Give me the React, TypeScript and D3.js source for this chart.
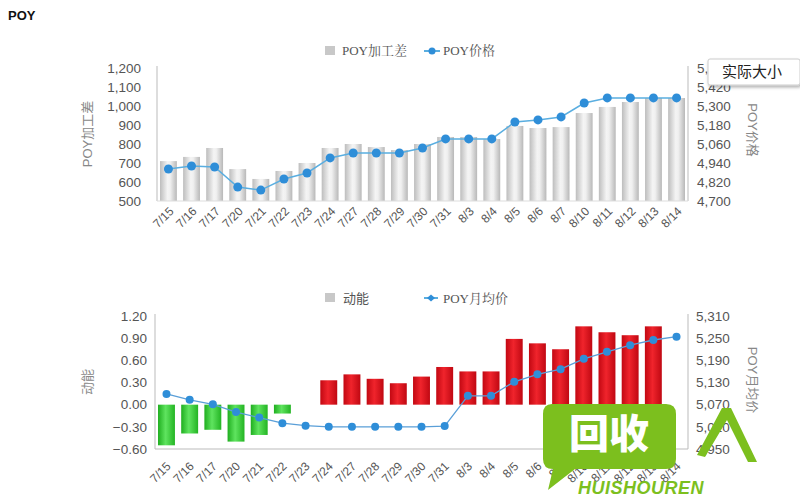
import React from "react";
import * as d3 from "d3";

const categories = ["7/15","7/16","7/17","7/20","7/21","7/22","7/23","7/24","7/27","7/28","7/29","7/30","7/31","8/3","8/4","8/5","8/6","8/7","8/10","8/11","8/12","8/13","8/14"];
const processingSpread = [710,732,779,668,616,658,700,779,800,784,768,800,837,837,826,895,884,889,963,995,1021,1042,1042];
const poyPrice = [4902,4921,4915,4788,4769,4839,4877,4972,5003,5003,5003,5035,5092,5092,5092,5199,5212,5231,5319,5351,5351,5351,5351];
const momentum: (number | null)[] = [-0.55,-0.39,-0.34,-0.50,-0.41,-0.12,0,0.33,0.41,0.35,0.29,0.38,0.51,0.45,0.45,0.89,0.83,0.75,1.06,0.98,0.94,1.06,null];
const monthlyAvg = [5099,5083,5071,5050,5035,5020,5013,5010,5010,5010,5010,5010,5012,5094,5094,5132,5152,5166,5194,5213,5231,5245,5254];

const topLeftTicks = [500,600,700,800,900,1000,1100,1200];
const topRightTicks = [4700,4820,4940,5060,5180,5300,5420,5540];
const botLeftTicks = [-0.6,-0.3,0,0.3,0.6,0.9,1.2];
const botRightTicks = [4950,5010,5070,5130,5190,5250,5310];

const SANS = "'Liberation Sans', Arial, 'Noto Sans CJK SC', sans-serif";
const SERIF = "'Liberation Serif', 'Noto Serif CJK SC', 'Noto Sans CJK SC', serif";
const TICK = "#555";

export default function App() {
  // top chart
  const xTop = d3.scaleBand<string>().domain(categories).range([157, 688]).paddingInner(0.27).paddingOuter(0.13);
  const yTopL = d3.scaleLinear().domain([500, 1200]).range([201, 68]);
  const yTopR = d3.scaleLinear().domain([4700, 5540]).range([201, 68]);
  const topLine = d3.line<number>().x((_, i) => xTop(categories[i])! + xTop.bandwidth() / 2).y((d) => yTopR(d));

  // bottom chart
  const xBot = d3.scaleBand<string>().domain(categories).range([155, 688]).paddingInner(0.27).paddingOuter(0.13);
  const yBotL = d3.scaleLinear().domain([-0.6, 1.2]).range([449, 316]);
  const yBotR = d3.scaleLinear().domain([4950, 5310]).range([449, 316]);
  const botLine = d3.line<number>().x((_, i) => xBot(categories[i])! + xBot.bandwidth() / 2).y((d) => yBotR(d));

  const fmtInt = d3.format(",");
  const fmt2 = d3.format(".2f");

  return (
    <svg width={800} height={500} style={{ position: "absolute", left: 0, top: 0, background: "#fff" }}>
      <defs>
        <linearGradient id="grayBar" x1="0" x2="1" y1="0" y2="0">
          <stop offset="0" stopColor="#bdbdbd" />
          <stop offset="0.45" stopColor="#f4f4f4" />
          <stop offset="0.6" stopColor="#f0f0f0" />
          <stop offset="1" stopColor="#b8b8b8" />
        </linearGradient>
        <linearGradient id="greenBar" x1="0" x2="1" y1="0" y2="0">
          <stop offset="0" stopColor="#1fae1f" />
          <stop offset="0.45" stopColor="#5fe45f" />
          <stop offset="1" stopColor="#23b423" />
        </linearGradient>
        <linearGradient id="redBar" x1="0" x2="1" y1="0" y2="0">
          <stop offset="0" stopColor="#c20812" />
          <stop offset="0.45" stopColor="#f0242c" />
          <stop offset="1" stopColor="#c00812" />
        </linearGradient>
        <filter id="shadow" x="-20%" y="-20%" width="140%" height="160%">
          <feDropShadow dx="1" dy="2" stdDeviation="1.5" floodColor="#000" floodOpacity="0.3" />
        </filter>
      </defs>

      <text x={8} y={20} fontFamily={SANS} fontWeight="bold" fontSize={13} fill="#111">POY</text>

      {/* ===== Top chart ===== */}
      <rect x={325} y={46} width={10} height={9} fill="#c8c8c8" />
      <text x={342} y={55} fontFamily={SERIF} fontSize={13} fill="#555">POY加工差</text>
      <line x1={424} x2={440} y1={51} y2={51} stroke="#5aaee0" strokeWidth={2} />
      <circle cx={432} cy={51} r={3.5} fill="#2f8ed8" />
      <text x={443} y={55} fontFamily={SERIF} fontSize={13} fill="#555">POY价格</text>

      {processingSpread.map((v, i) => (
        <rect key={"tb" + i} x={xTop(categories[i])} y={yTopL(v)} width={xTop.bandwidth()} height={yTopL(500) - yTopL(v)} fill="url(#grayBar)" />
      ))}
      <line x1={157} x2={157} y1={66} y2={201} stroke="#bbb" />
      <line x1={688} x2={688} y1={66} y2={201} stroke="#bbb" />
      <line x1={157} x2={688} y1={201} y2={201} stroke="#ddd" />
      <path d={topLine(poyPrice) || ""} fill="none" stroke="#5aaee0" strokeWidth={1.5} />
      {poyPrice.map((v, i) => (
        <circle key={"tp" + i} cx={xTop(categories[i])! + xTop.bandwidth() / 2} cy={yTopR(v)} r={4.5} fill="#2f8ed8" />
      ))}
      {topLeftTicks.map((t) => (
        <text key={"tl" + t} x={141} y={yTopL(t)} dy="0.35em" textAnchor="end" fontFamily={SANS} fontSize={13.5} fill={TICK}>{fmtInt(t)}</text>
      ))}
      {topRightTicks.filter((t) => t !== 5540).map((t) => (
        <text key={"tr" + t} x={697} y={yTopR(t)} dy="0.35em" textAnchor="start" fontFamily={SANS} fontSize={13.5} fill={TICK}>{fmtInt(t)}</text>
      ))}
      {categories.map((c) => {
        const cx = xTop(c)! + xTop.bandwidth() / 2 + 6;
        return (
          <text key={"tx" + c} transform={`translate(${cx},${212}) rotate(-45)`} textAnchor="end" fontFamily={SANS} fontSize={12} fill={TICK}>{c}</text>
        );
      })}
      <text transform="translate(92,134) rotate(-90)" textAnchor="middle" fontFamily={SANS} fontSize={13} fill="#888">POY加工差</text>
      <text transform="translate(748,130) rotate(90)" textAnchor="middle" fontFamily={SANS} fontSize={13} fill="#888">POY价格</text>

      {/* tooltip (partly hides the top right tick "5,540") */}
      <text x={697} y={yTopR(5540)} dy="0.35em" textAnchor="start" fontFamily={SANS} fontSize={13.5} fill={TICK}>5,</text>
      <rect x={708} y={59} width={92} height={26} rx={2} fill="#fff" stroke="#ccc" filter="url(#shadow)" />
      <text x={752} y={72} dy="0.35em" textAnchor="middle" fontFamily={SANS} fontSize={15} fill="#222">实际大小</text>

      {/* ===== Bottom chart ===== */}
      <rect x={325} y={293} width={10} height={9} fill="#c8c8c8" />
      <text x={343} y={303} fontFamily={SANS} fontSize={13} fill="#555">动能</text>
      <line x1={424} x2={438} y1={298} y2={298} stroke="#5aaee0" strokeWidth={2} />
      <path d="M431,294.5 L435,298 L431,301.5 L427,298 Z" fill="#2f8ed8" />
      <text x={443} y={303} fontFamily={SERIF} fontSize={13} fill="#555">POY月均价</text>

      {momentum.map((v, i) =>
        v === null || v === 0 ? null : (
          <rect key={"bb" + i} x={xBot(categories[i])} y={Math.min(yBotL(v), yBotL(0))} width={xBot.bandwidth()} height={Math.abs(yBotL(v) - yBotL(0))} fill={v < 0 ? "url(#greenBar)" : "url(#redBar)"} />
        )
      )}
      <line x1={155} x2={155} y1={314} y2={449} stroke="#bbb" />
      <line x1={688} x2={688} y1={314} y2={449} stroke="#bbb" />
      <line x1={155} x2={688} y1={449} y2={449} stroke="#bbb" />
      <path d={botLine(monthlyAvg) || ""} fill="none" stroke="#5a9fd8" strokeWidth={1.3} />
      {monthlyAvg.map((v, i) => (
        <circle key={"bp" + i} cx={xBot(categories[i])! + xBot.bandwidth() / 2} cy={yBotR(v)} r={4} fill="#2f8ed8" />
      ))}
      {botLeftTicks.map((t) => (
        <text key={"bl" + t} x={147} y={yBotL(t)} dy="0.35em" textAnchor="end" fontFamily={SANS} fontSize={13.5} fill={TICK}>{fmt2(t)}</text>
      ))}
      {botRightTicks.map((t) => (
        <text key={"br" + t} x={696} y={yBotR(t)} dy="0.35em" textAnchor="start" fontFamily={SANS} fontSize={13.5} fill={TICK}>{fmtInt(t)}</text>
      ))}
      {categories.map((c) => {
        const cx = xBot(c)! + xBot.bandwidth() / 2 + 5;
        return (
          <text key={"bx" + c} transform={`translate(${cx},${467}) rotate(-45)`} textAnchor="end" fontFamily={SANS} fontSize={12} fill={TICK}>{c}</text>
        );
      })}
      <text transform="translate(92,382) rotate(-90)" textAnchor="middle" fontFamily={SANS} fontSize={13} fill="#888">动能</text>
      <text transform="translate(748,380) rotate(90)" textAnchor="middle" fontFamily={SANS} fontSize={13} fill="#888">POY月均价</text>

      {/* watermark */}
      <g>
        <path d="M552,404 L666,404 Q676,404 676,414 L676,459 Q676,469 666,469 L575,469 L548,490 L553,469 Q543,469 543,459 L543,414 Q543,404 552,404 Z" fill="#7cbf1e" />
        <text x={609} y={448} textAnchor="middle" fontFamily="'Noto Sans CJK SC', sans-serif" fontWeight="900" fontSize={40} fill="#fff">回收</text>
        <path d="M697,455 L722,408 L731,408 L757,462 L748,462 L727,420 L705,457 Z" fill="#7cbf1e" />
        <text x={578} y={494} fontFamily={SANS} fontWeight="bold" fontStyle="italic" fontSize={18} fill="#7cbf1e" letterSpacing={0.5}>HUISHOUREN</text>
      </g>
    </svg>
  );
}
